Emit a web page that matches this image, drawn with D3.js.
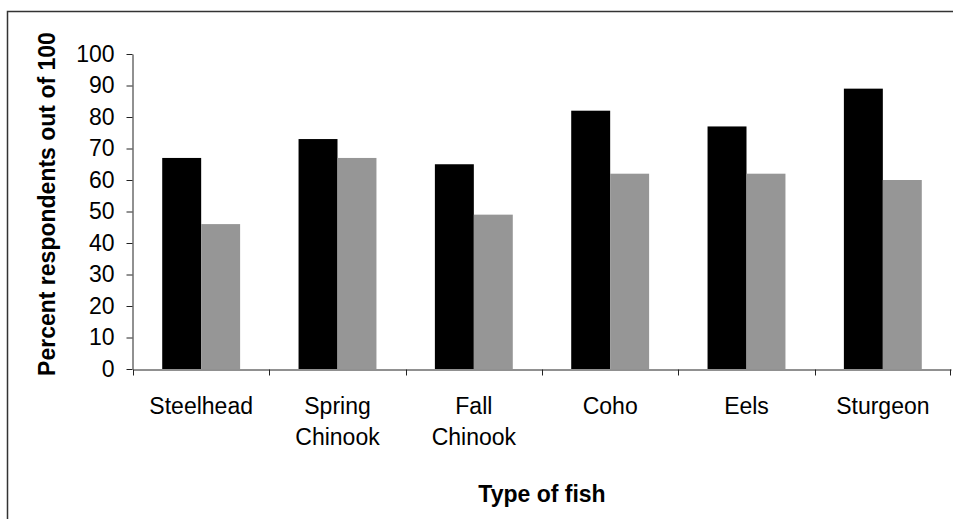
<!DOCTYPE html>
<html lang="en">
<head>
<meta charset="UTF-8">
<title>Type of fish</title>
<script src="https://d3js.org/d3.v7.min.js"></script>
<style>
  body { margin: 0; background: #fff; }
  svg text { font-family: "Liberation Sans", Arial, sans-serif; fill: #000; }
</style>
</head>
<body>
<div id="chart"></div>
<script>
// data
const categories = ['Steelhead', 'Spring Chinook', 'Fall Chinook', 'Coho', 'Eels', 'Sturgeon'];
const seriesA = [67, 73, 65, 82, 77, 89];   // black bars
const seriesB = [46, 67, 49, 62, 62, 60];   // grey bars
const yTicks = [0, 10, 20, 30, 40, 50, 60, 70, 80, 90, 100];
const seriesColors = ['#000000', '#969696'];

const width = 953, height = 519;
const margin = { top: 54, right: 2, bottom: 150, left: 133 };

const svg = d3.select('#chart').append('svg')
    .attr('width', width)
    .attr('height', height);

// outer frame (runs off the right and bottom edge)
svg.append('rect')
    .attr('x', 7.5).attr('y', 11.5)
    .attr('width', 1200).attr('height', 1200)
    .attr('fill', 'none')
    .attr('stroke', '#333')
    .attr('stroke-width', 1.5);

const x = d3.scaleBand()
    .domain(categories)
    .range([margin.left, width - margin.right])
    .paddingInner(0).paddingOuter(0);

const xInner = d3.scaleBand()
    .domain([0, 1])
    .range([0, x.bandwidth()])
    .paddingInner(0).paddingOuter(0.75);

const y = d3.scaleLinear()
    .domain([0, 100])
    .range([height - margin.bottom, margin.top]);

// bars
const rows = categories.map((c, i) => ({ cat: c, vals: [seriesA[i], seriesB[i]] }));
const groups = svg.selectAll('.grp')
    .data(rows)
    .enter().append('g')
    .attr('class', 'grp')
    .attr('transform', d => `translate(${x(d.cat)},0)`);

groups.selectAll('rect')
    .data(d => d.vals.map((v, k) => ({ k, v })))
    .enter().append('rect')
    .attr('x', d => xInner(d.k))
    .attr('y', d => y(d.v))
    .attr('width', xInner.bandwidth())
    .attr('height', d => y(0) - y(d.v))
    .attr('fill', d => seriesColors[d.k]);

// y axis
const yAxis = svg.append('g')
    .attr('transform', `translate(${margin.left - 0.5},0)`)
    .call(d3.axisLeft(y).tickValues(yTicks).tickSize(6).tickPadding(12).tickSizeOuter(0));
yAxis.select('.domain').attr('stroke', '#222');
yAxis.selectAll('.tick line').attr('stroke', '#222');
yAxis.selectAll('.tick text')
    .style('font-size', '23px')
    .attr('fill', '#000');

// x axis: labels at band centres, ticks at band edges
const xAxis = svg.append('g')
    .attr('transform', `translate(0,${y(0) + 0.5})`)
    .call(d3.axisBottom(x).tickSize(0).tickFormat(''));
xAxis.select('.domain').attr('stroke', '#222');

const edges = categories.map(c => x(c)).concat([x.range()[1] - 1]);
xAxis.selectAll('.edge')
    .data(edges)
    .enter().append('line')
    .attr('class', 'edge')
    .attr('x1', d => Math.round(d) + 0.5).attr('x2', d => Math.round(d) + 0.5)
    .attr('y1', 0).attr('y2', 6)
    .attr('stroke', '#222');

xAxis.selectAll('.tick').each(function(d) {
    const words = d.split(' ');
    const t = d3.select(this).append('text')
        .attr('text-anchor', 'middle')
        .style('font-size', '23px')
        .attr('fill', '#000');
    words.forEach((w, i) => {
        t.append('tspan').attr('x', 0).attr('y', 44 + i * 31).text(w);
    });
});

// axis titles
svg.append('text')
    .attr('x', (margin.left + width - margin.right) / 2)
    .attr('y', 502)
    .attr('text-anchor', 'middle')
    .style('font-size', '23px')
    .style('font-weight', 'bold')
    .text('Type of fish');

svg.append('text')
    .attr('transform', 'translate(55,204) rotate(-90)')
    .attr('text-anchor', 'middle')
    .style('font-size', '23px')
    .style('font-weight', 'bold')
    .text('Percent respondents out of 100');
</script>
</body>
</html>
